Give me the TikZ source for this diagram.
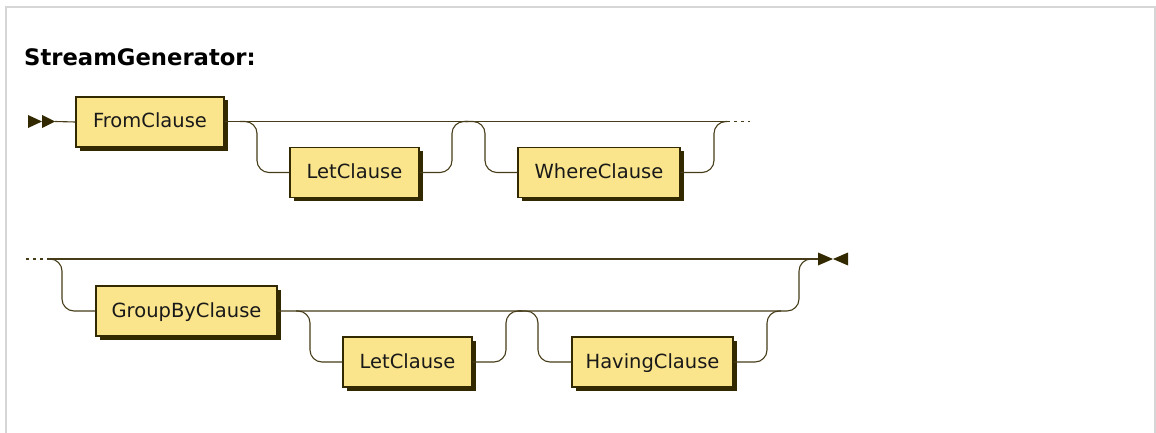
\documentclass[tikz,border=0pt]{standalone}
\usepackage{fontspec}
\setmainfont{DejaVu Sans}
\usetikzlibrary{shadows}
\definecolor{boxfill}{RGB}{250,229,140}
\definecolor{boxdraw}{RGB}{51,41,0}
\definecolor{railc}{RGB}{70,60,25}
\definecolor{framec}{RGB}{214,214,214}
\tikzset{
  rrbox/.style={draw=boxdraw, line width=1.2pt, fill=boxfill, rectangle,
    minimum height=50pt, inner sep=0pt, text height=14pt, text depth=2pt,
    font=\fontsize{19.5}{23}\selectfont, text=black!90,
    drop shadow={shadow xshift=3.5pt, shadow yshift=-3.5pt, fill=boxdraw, opacity=1}},
  rail/.style={draw=railc, line width=1.1pt, rounded corners=12pt},
  dotrail/.style={draw=railc, line width=1.1pt, dash pattern=on 3pt off 4pt},
  marker/.style={fill=boxdraw}
}
\begin{document}
\begin{tikzpicture}[x=1pt,y=-1pt]
\useasboundingbox (0,0) rectangle (1156,433);
\draw[framec, line width=2pt] (6,440) -- (6,7) -- (1155,7) -- (1155,440);
\node[anchor=base west, font=\fontsize{22.7}{27}\selectfont\bfseries, inner sep=0pt] (title) at (24,66) {StreamGenerator:};
% row 1
\node[rrbox, minimum width=148pt] (from) at (150,122) {FromClause};
\node[rrbox, minimum width=129pt] (let1) at (354.5,172.5) {LetClause};
\node[rrbox, minimum width=162pt] (where) at (599,172.5) {WhereClause};
\coordinate (start) at (55,121.5);
\coordinate (e1) at (727,121.5);
\coordinate (d1) at (750,121.5);
\fill[marker] (28,115) -- (42,121.5) -- (28,128) -- cycle;
\fill[marker] (42,115) -- (55,121.5) -- (42,128) -- cycle;
\draw[rail] (start) -- (from.west);
\draw[rail] (from.east |- e1) -- (e1);
\draw[dotrail] (e1) -- (d1);
\draw[rail] (240,121.5) -- (257,121.5) -- (257,172.5) -- (let1.west);
\draw[rail] (let1.east) -- (452,172.5) -- (452,121.5) -- (468,121.5);
\draw[rail] (465,121.5) -- (485,121.5) -- (485,172.5) -- (where.west);
\draw[rail] (where.east) -- (714,172.5) -- (714,121.5) -- (e1);
% row 2
\node[rrbox, minimum width=181pt] (group) at (186.5,311) {GroupByClause};
\node[rrbox, minimum width=129pt] (let2) at (407.5,362) {LetClause};
\node[rrbox, minimum width=161pt] (having) at (652.5,362) {HavingClause};
\coordinate (d2) at (26,259);
\coordinate (s2) at (47,259);
\coordinate (end) at (818,259);
\draw[dotrail] (d2) -- (s2);
\draw[rail] (s2) -- (end);
\fill[marker] (818,252.5) -- (833,259) -- (818,265.5) -- cycle;
\fill[marker] (848,252.5) -- (833,259) -- (848,265.5) -- cycle;
\draw[rail] (s2) -- (62,259) -- (62,311) -- (group.west);
\draw[rail] (group.east) -- (799,311) -- (799,259) -- (end);
\draw[rail] (296,311) -- (310,311) -- (310,362) -- (let2.west);
\draw[rail] (let2.east) -- (506,362) -- (506,311) -- (522,311);
\draw[rail] (518,311) -- (538,311) -- (538,362) -- (having.west);
\draw[rail] (having.east) -- (767,362) -- (767,311) -- (781,311);
\end{tikzpicture}
\end{document}
